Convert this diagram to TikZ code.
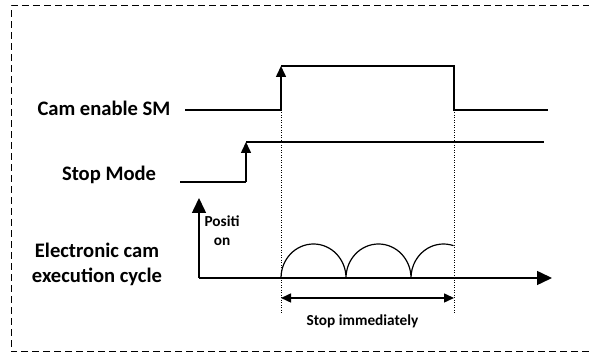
\documentclass[tikz,border=0pt]{standalone}
\usepackage{fontspec}
\setmainfont{Carlito}
\usetikzlibrary{positioning,arrows.meta}
\tikzset{
  lab/.style={font=\fontsize{20.6}{25}\selectfont\bfseries,align=center,inner sep=0pt},
  small/.style={font=\fontsize{15.3}{19}\selectfont\bfseries,align=center,inner sep=0pt},
  sig/.style={line width=1.5pt,draw=black},
  up/.style={sig,-{Triangle[length=11pt,width=10pt]}},
  ax/.style={sig,-{Triangle[length=15pt,width=14pt]}},
  guide/.style={line width=1pt,dash pattern=on 1pt off 1.5pt},
  span/.style={line width=1.5pt,{Triangle[length=10pt,width=9pt]}-{Triangle[length=10pt,width=9pt]}},
  frame/.style={line width=1pt,dash pattern=on 7pt off 4pt},
}
\begin{document}
\begin{tikzpicture}[x=1pt,y=1pt]
\useasboundingbox (0,0) rectangle (589,355);
\coordinate (f1) at (589,3);
\coordinate (f2) at (11,3);
\coordinate (f3) at (11,349);
\coordinate (f4) at (589,349);
\draw[frame] (f1) -- (f2) -- (f3) -- (f4);

% ---- Cam enable SM ----
\node[lab] (cam) at (104,247) {Cam enable SM};
\coordinate (c0) at (185,245);
\coordinate (c1) at (281,245);
\coordinate (c2) at (281,289);
\coordinate (c3) at (454,289);
\coordinate (c4) at (454,245);
\coordinate (c5) at (548,245);
\draw[sig] (c0) -- (c1);
\draw[up] (c1) -- (c2);
\draw[sig] (c2) -- (c3) -- (c4) -- (c5);

% ---- Stop Mode ----
\node[lab] (stop) at (109,180) {Stop Mode};
\coordinate (s0) at (180,173);
\coordinate (s1) at (246,173);
\coordinate (s2) at (246,213);
\coordinate (s3) at (544,213);
\draw[sig] (s0) -- (s1);
\draw[up] (s1) -- (s2);
\draw[sig] (s2) -- (s3);

% ---- Electronic cam execution cycle ----
\node[lab] (ecam) at (97,91) {Electronic cam\\execution cycle};
\coordinate (o) at (199,77);
\coordinate (py) at (199,157);
\coordinate (px) at (552,77);
\draw[ax] (o) -- (py);
\draw[ax] (o) -- (px);
\node[small] (pos) at (222,124) {Positi\\on};
\coordinate (a0) at (281,77);
\draw[line width=1.2pt] (a0)
  arc[start angle=180,end angle=0,x radius=32.5,y radius=34]
  arc[start angle=180,end angle=0,x radius=32.5,y radius=34]
  arc[start angle=180,end angle=72,x radius=32.5,y radius=34];

% ---- Stop window ----
\coordinate (g1) at (281,42);
\coordinate (g2) at (454,42);
\draw[guide] (c1) -- (g1);
\draw[guide] (c4) -- (g2);
\coordinate (d1) at (281,57);
\coordinate (d2) at (454,57);
\coordinate (dm) at (367.5,57);
\draw[span] (d1) -- (d2);
\node[small,below=17pt of dm,xshift=-5pt] (imm) {Stop immediately};
\end{tikzpicture}
\end{document}
